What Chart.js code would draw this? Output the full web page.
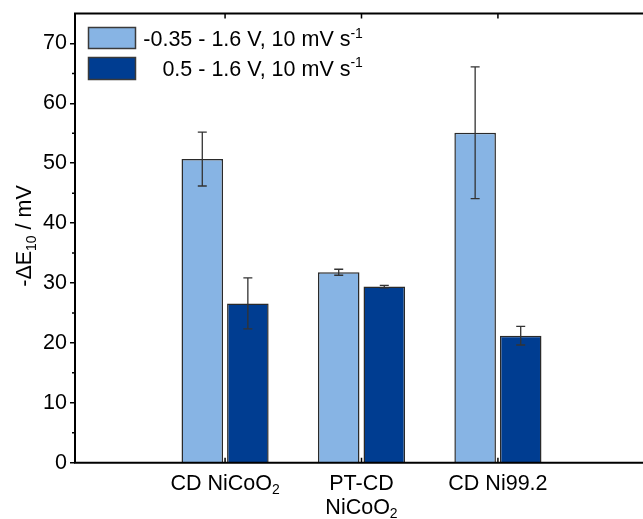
<!DOCTYPE html>
<html><head><meta charset="utf-8">
<script src="https://cdn.jsdelivr.net/npm/chart.js@4.4.1/dist/chart.umd.min.js"></script>
<style>
html,body{margin:0;padding:0;background:#fff;overflow:hidden;width:643px;height:519px}
#wrap{position:absolute;left:0;top:0;width:660px;height:519px}
</style>
</head><body><div id="wrap"><canvas id="c" width="660" height="519"></canvas></div>
<script>
// ---- data ----
const categories = [['CD NiCoO₂'], ['PT-CD', 'NiCoO₂'], ['CD Ni99.2']];
const categoryPositions = [1, 2, 3];
const seriesLabels = ['-0.35 - 1.6 V, 10 mV s⁻¹', '0.5 - 1.6 V, 10 mV s⁻¹'];
const wideWindowValues = [50.7, 31.8, 55.1];
const wideWindowErrors = [4.5, 0.5, 11.0];
const narrowWindowValues = [26.6, 29.4, 21.2];
const narrowWindowErrors = [4.25, 0.22, 1.55];
const yTickValues = [0, 10, 20, 30, 40, 50, 60, 70];
const yMinorTickValues = [5, 15, 25, 35, 45, 55, 65];
const yTitle = '-ΔE₁₀ / mV';

// ---- styles ----
const FONT = "'Liberation Sans', Arial, sans-serif";
const FS = 21.5;
const LIGHT = '#87B4E4';
const DARK = '#003D91';
const EDGE = '#2A2A2A';

const SUB = {'₀':'0','₁':'1','₂':'2','₃':'3','₄':'4','₅':'5','₆':'6','₇':'7','₈':'8','₉':'9'};
const SUP = {'⁻':'-','¹':'1','²':'2','³':'3','⁰':'0'};
function segments(str){
  const segs = [];
  for (const ch of str){
    let t = 'n', c = ch;
    if (SUB[ch] !== undefined){ t = 'sub'; c = SUB[ch]; }
    else if (SUP[ch] !== undefined){ t = 'sup'; c = SUP[ch]; }
    if (segs.length && segs[segs.length-1].t === t) segs[segs.length-1].s += c;
    else segs.push({t, s: c});
  }
  return segs;
}
function setFont(ctx, t, size){
  ctx.font = ((t === 'n') ? size : size * 0.65) + 'px ' + FONT;
}
function richWidth(ctx, str, size){
  let w = 0;
  for (const sg of segments(str)){ setFont(ctx, sg.t, size); w += ctx.measureText(sg.s).width; }
  return w;
}
function drawRich(ctx, str, x, y, size, align){
  const w = richWidth(ctx, str, size);
  let cx = align === 'center' ? x - w/2 : (align === 'right' ? x - w : x);
  ctx.textAlign = 'left';
  ctx.textBaseline = 'alphabetic';
  for (const sg of segments(str)){
    setFont(ctx, sg.t, size);
    const dy = sg.t === 'sub' ? size * 0.22 : (sg.t === 'sup' ? -size * 0.38 : 0);
    ctx.fillText(sg.s, cx, y + dy);
    cx += ctx.measureText(sg.s).width;
  }
  return w;
}

const decor = {
  id: 'decor',
  afterDatasetsDraw(chart){
    const ctx = chart.ctx;
    const ys = chart.scales.y;
    ctx.save();
    ctx.strokeStyle = '#333';
    ctx.lineWidth = 1.3;
    chart.data.datasets.forEach((ds, i) => {
      const meta = chart.getDatasetMeta(i);
      meta.data.forEach((el, j) => {
        const v = ds.data[j].y, e = ds.errors[j];
        const x = el.x;
        const yt = ys.getPixelForValue(v + e), yb = ys.getPixelForValue(v - e);
        ctx.beginPath();
        ctx.moveTo(x, yt); ctx.lineTo(x, yb);
        ctx.moveTo(x - 4.5, yt); ctx.lineTo(x + 4.5, yt);
        ctx.moveTo(x - 4.5, yb); ctx.lineTo(x + 4.5, yb);
        ctx.stroke();
      });
    });
    ctx.restore();
  },
  afterDraw(chart){
    const ctx = chart.ctx;
    const a = chart.chartArea;
    const xs = chart.scales.x, ys = chart.scales.y;
    ctx.save();
    ctx.fillStyle = '#000';
    ctx.strokeStyle = '#000';
    // frame lines
    ctx.lineWidth = 2;
    ctx.beginPath();
    ctx.moveTo(a.left - 1, a.top); ctx.lineTo(a.right + 5, a.top);
    ctx.moveTo(a.left - 1, a.bottom); ctx.lineTo(a.right + 5, a.bottom);
    ctx.moveTo(a.left, a.top - 1); ctx.lineTo(a.left, a.bottom + 1);
    ctx.stroke();
    // inward category ticks top and bottom
    ctx.lineWidth = 1.5;
    ctx.beginPath();
    categoryPositions.forEach(p => {
      const x = xs.getPixelForValue(p);
      ctx.moveTo(x, a.top); ctx.lineTo(x, a.top + 5);
      ctx.moveTo(x, a.bottom); ctx.lineTo(x, a.bottom - 5);
    });
    // minor y ticks outward
    yMinorTickValues.forEach(v => {
      const y = ys.getPixelForValue(v);
      ctx.moveTo(a.left, y); ctx.lineTo(a.left - 3, y);
    });
    ctx.stroke();
    // x category labels
    categories.forEach((lines, i) => {
      const x = xs.getPixelForValue(categoryPositions[i]);
      lines.forEach((ln, k) => drawRich(ctx, ln, x, 489.5 + k * 24, FS, 'center'));
    });
    // y title
    ctx.save();
    ctx.translate(31, 236);
    ctx.rotate(-Math.PI / 2);
    drawRich(ctx, yTitle, 0, 0, FS, 'center');
    ctx.restore();
    // legend
    const boxes = [[88, 27, 48, 22], [88, 57, 48, 23]];
    const baselines = [46, 75.5];
    const w0 = richWidth(ctx, chart.data.datasets[0].label, FS);
    const endX = 143.3 + w0;
    chart.data.datasets.forEach((ds, i) => {
      const b = boxes[i];
      ctx.fillStyle = ds.backgroundColor;
      ctx.fillRect(b[0], b[1], b[2], b[3]);
      ctx.strokeStyle = '#3a3a3a';
      ctx.lineWidth = 1.5;
      ctx.strokeRect(b[0] + 0.5, b[1] + 0.5, b[2] - 1, b[3] - 1);
      ctx.fillStyle = '#000';
      drawRich(ctx, ds.label, endX, baselines[i], FS, 'right');
    });
    ctx.restore();
  }
};

new Chart(document.getElementById('c'), {
  type: 'bar',
  data: {
    datasets: [
      { label: seriesLabels[0], data: categoryPositions.map((x, i) => ({x, y: wideWindowValues[i]})),
        errors: wideWindowErrors, backgroundColor: LIGHT, borderColor: EDGE, borderWidth: 1.5,
        categoryPercentage: 0.668, barPercentage: 0.912 },
      { label: seriesLabels[1], data: categoryPositions.map((x, i) => ({x, y: narrowWindowValues[i]})),
        errors: narrowWindowErrors, backgroundColor: DARK, borderColor: EDGE, borderWidth: 1.5,
        categoryPercentage: 0.668, barPercentage: 0.912 }
    ]
  },
  options: {
    responsive: false,
    animation: false,
    layout: { padding: { top: 13.5, right: 12, left: 0, bottom: 0 } },
    plugins: { legend: { display: false }, tooltip: { enabled: false } },
    scales: {
      x: {
        type: 'linear', min: -0.1, max: 4.1, offset: false,
        afterBuildTicks(s){ s.ticks = categoryPositions.map(v => ({value: v})); },
        grid: { display: false },
        border: { display: false },
        ticks: { display: false },
        afterFit(s){ s.height = 56.3; s.paddingLeft = 0; s.paddingRight = 0; }
      },
      y: {
        min: 0, max: 75,
        afterBuildTicks(s){ s.ticks = yTickValues.map(v => ({value: v})); },
        ticks: { color: '#000', font: { family: FONT, size: FS }, padding: 3 },
        grid: { drawOnChartArea: false, drawTicks: true, tickLength: 5, color: '#000', lineWidth: 1.5 },
        border: { display: false },
        afterFit(s){ s.width = 75; s.paddingTop = 0; s.paddingBottom = 0; }
      }
    }
  },
  plugins: [decor]
});
</script>
</body></html>
